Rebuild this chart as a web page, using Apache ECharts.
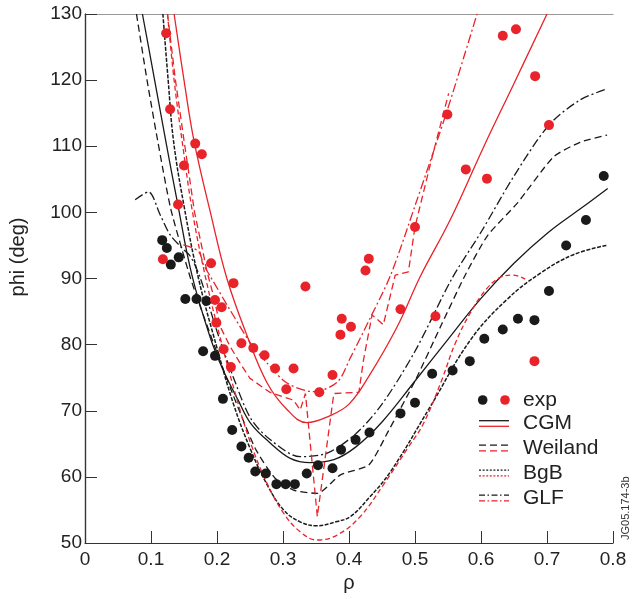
<!DOCTYPE html>
<html><head><meta charset="utf-8">
<script src="https://cdn.jsdelivr.net/npm/echarts@6/dist/echarts.min.js"></script>
<style>html,body{margin:0;padding:0;background:#fff}#c{width:644px;height:599px}</style>
</head><body><div id="c"></div>
<script>
// ---- data (rho, phi in deg) ----
const expBlack = [[0.117,95.8],[0.124,94.6],[0.130,92.1],[0.142,93.2],[0.152,86.9],[0.169,86.9],[0.184,86.6],[0.179,79.0],[0.197,78.3],[0.209,71.8],[0.223,67.1],[0.237,64.6],[0.248,62.9],[0.258,60.8],[0.274,60.5],[0.290,58.9],[0.304,58.9],[0.318,58.9],[0.336,60.5],[0.353,61.75],[0.375,61.3],[0.388,64.1],[0.410,65.6],[0.431,66.7],[0.478,69.6],[0.500,71.2],[0.526,75.6],[0.557,76.1],[0.583,77.5],[0.605,80.9],[0.633,82.3],[0.656,83.9],[0.681,83.7],[0.703,88.1],[0.729,95.0],[0.759,98.85],[0.786,105.5]];
const expRed = [[0.123,127.1],[0.129,115.6],[0.167,110.4],[0.177,108.8],[0.150,107.1],[0.141,101.2],[0.118,92.9],[0.191,92.3],[0.225,89.3],[0.334,88.8],[0.197,86.75],[0.207,85.65],[0.199,83.3],[0.210,79.3],[0.221,76.6],[0.237,80.2],[0.255,79.5],[0.272,78.4],[0.288,76.4],[0.316,76.4],[0.305,73.25],[0.355,72.8],[0.375,75.4],[0.389,83.9],[0.403,82.7],[0.387,81.5],[0.430,93.0],[0.425,91.2],[0.478,85.35],[0.500,97.8],[0.531,84.3],[0.549,114.8],[0.577,106.5],[0.609,105.1],[0.633,126.7],[0.653,127.7],[0.682,120.6],[0.703,113.2],[0.681,77.5]];
const cgmBlack = [[0.087,130],[0.10,123],[0.122,111],[0.14,101.5],[0.162,90.5],[0.19,81],[0.21,76],[0.232,71.6],[0.251,68.1],[0.281,65.1],[0.311,62.8],[0.341,62.15],[0.377,62.6],[0.41,64.5],[0.45,68.3],[0.50,74.5],[0.55,80.8],[0.60,87],[0.65,92.3],[0.70,96.8],[0.75,100.5],[0.792,103.6]];
const weilandBlack = [[0.078,130],[0.094,120],[0.110,110.9],[0.13,100.5],[0.16,90],[0.19,81.5],[0.22,73.5],[0.258,64.3],[0.288,59.8],[0.316,58.0],[0.352,57.5],[0.387,60.3],[0.43,61.8],[0.46,67],[0.50,74.5],[0.54,83],[0.576,90.5],[0.61,96.5],[0.655,101.4],[0.71,108.4],[0.75,110.6],[0.791,111.7]];
const bgbBlack = [[0.118,130],[0.126,120],[0.134,110.9],[0.15,101],[0.172,90],[0.20,79.5],[0.225,71],[0.251,64.1],[0.276,58.8],[0.301,55.0],[0.326,53.2],[0.352,52.6],[0.38,53.2],[0.402,54.0],[0.43,56.8],[0.463,60.8],[0.523,70.6],[0.584,80.7],[0.639,86.8],[0.69,90.8],[0.74,93.6],[0.79,95.0]];
const glfBlack = [[0.076,101.9],[0.096,103.1],[0.114,99.6],[0.129,96.6],[0.147,94.6],[0.16,93.3],[0.175,90],[0.20,82],[0.225,75],[0.251,68.85],[0.281,65.6],[0.326,63.05],[0.367,63.6],[0.41,66.5],[0.45,71],[0.50,79],[0.556,90],[0.60,97],[0.65,105.5],[0.703,113.2],[0.75,117],[0.789,118.6]];
const cgmRed = [[0.135,130],[0.15,120],[0.165,110.9],[0.19,100],[0.215,90],[0.245,81.5],[0.276,74.2],[0.306,70.2],[0.336,68.2],[0.37,69.2],[0.40,71],[0.43,75.2],[0.473,82.7],[0.508,90.3],[0.553,98.8],[0.604,109.9],[0.65,119.5],[0.70,130]];
const weilandRed = [[0.125,130],[0.137,120],[0.15,110.9],[0.166,100],[0.185,91],[0.195,87.25],[0.205,82.7],[0.22,79.7],[0.235,77.2],[0.25,74.9],[0.28,72.8],[0.316,71.6],[0.326,70.1],[0.334,72.6],[0.352,54],[0.377,72.6],[0.415,72.8],[0.422,77.7],[0.435,84.5],[0.452,83],[0.47,90.5],[0.49,91],[0.50,97.8],[0.525,108],[0.551,118]];
const bgbRed = [[0.125,130],[0.135,120],[0.147,110.9],[0.163,100],[0.183,90],[0.205,81],[0.228,72.5],[0.251,65.1],[0.276,59],[0.301,54.5],[0.326,51.7],[0.352,50.45],[0.382,51.2],[0.417,54],[0.452,58.8],[0.49,64.5],[0.513,68.1],[0.54,74.5],[0.561,80.2],[0.585,85],[0.609,88.5],[0.63,90.2],[0.649,90.5],[0.667,89.9]];
const glfRed = [[0.149,95.1],[0.172,94.1],[0.18,92],[0.19,90.3],[0.22,85.2],[0.251,80.2],[0.276,77.2],[0.306,74.2],[0.346,72.9],[0.382,74.3],[0.402,78],[0.432,84],[0.463,90.5],[0.50,101],[0.549,115.5],[0.594,130]];
const legendNames = ['exp','CGM','Weiland','BgB','GLF'];
const yName = 'phi (deg)';
const noteText = 'JG05.174-3b';

// ---- styles ----
const BLACK = '#1a1a1a', RED = '#e8232a';
const FONT = 'Liberation Sans, Arial, Helvetica, sans-serif';
const DASH = [7,4], DOT = [2,1.6], DASHDOT = [9,3,2,3];

function line(data, color, type, smooth, w){
  return {type:'line', data, showSymbol:false, symbol:'none', smooth, clip:true,
    lineStyle:{color, width:w||1.3, type}, z:2, silent:true};
}
const chart = echarts.init(document.getElementById('c'), null, {renderer:'canvas'});
const axisTxt = {color:'#222', fontSize:19, fontFamily:FONT};
const L = {x1:479, x2:509, tx:523};
const rows = [400, 423.5, 448, 473, 498];
const g = [];
g.push({type:'circle', shape:{cx:482.7, cy:rows[0], r:4.8}, style:{fill:BLACK}});
g.push({type:'circle', shape:{cx:505, cy:rows[0], r:4.8}, style:{fill:RED}});
const pats = [null, null, DASH, DOT, [6,2.5,1.5,2.5]];
for (let i=1;i<5;i++){
  g.push({type:'line', shape:{x1:L.x1,y1:rows[i]-2.8,x2:L.x2,y2:rows[i]-2.8}, style:{stroke:BLACK, lineWidth:1.3, lineDash:pats[i]}});
  g.push({type:'line', shape:{x1:L.x1,y1:rows[i]+2.8,x2:L.x2,y2:rows[i]+2.8}, style:{stroke:RED, lineWidth:1.3, lineDash:pats[i]}});
}
legendNames.forEach((n,i)=>g.push({type:'text', x:L.tx, y:rows[i], style:{text:n, fill:'#222', font:'21px '+FONT, textVerticalAlign:'middle'}}));
g.push({type:'text', x:626, y:540, rotation:Math.PI/2, style:{text:noteText, fill:'#333', font:'11px '+FONT, textVerticalAlign:'middle'}});
g.push({type:'text', x:18, y:257, rotation:Math.PI/2, style:{text:yName, fill:'#222', font:'20px '+FONT, textAlign:'center', textVerticalAlign:'middle'}});

chart.setOption({
  animation:false,
  backgroundColor:'#fff',
  grid:{left:85, right:31, top:14, bottom:56},
  xAxis:[{type:'value', min:0, max:0.8, interval:0.1,
    name:'ρ', nameLocation:'middle', nameGap:30, nameTextStyle:{color:'#222', fontSize:20, fontFamily:FONT},
    axisLine:{lineStyle:{color:'#333', width:1.2}}, axisTick:{inside:true, length:12, lineStyle:{color:'#333'}},
    axisLabel:{...axisTxt, margin:7, formatter:v=>String(+v.toFixed(1))}, splitLine:{show:false}},
   {type:'value', position:'top', min:0, max:0.8, axisLine:{show:true, lineStyle:{color:'#999', width:1.2}}, axisTick:{show:false}, axisLabel:{show:false}, splitLine:{show:false}}],
  yAxis:[{type:'value', min:50, max:130, interval:10,
    axisLine:{show:true, lineStyle:{color:'#333', width:1.2}}, axisTick:{show:true, inside:true, length:12, lineStyle:{color:'#333'}},
    axisLabel:{...axisTxt, margin:3}, splitLine:{show:false}},
   {type:'value', position:'right', min:50, max:130, axisLine:{show:true, lineStyle:{color:'#333', width:1.2}}, axisTick:{show:false}, axisLabel:{show:false}, splitLine:{show:false}}],
  series:[
    line(cgmBlack, BLACK, 'solid', 0.4),
    line(weilandBlack, BLACK, DASH, 0.2),
    line(bgbBlack, BLACK, [4,1.5], 0.4, 1.5),
    line(glfBlack, BLACK, DASHDOT, 0.3),
    line(cgmRed, RED, 'solid', 0.4),
    line(weilandRed, RED, DASH, false),
    line(bgbRed, RED, [5,3], 0.4),
    line(glfRed, RED, DASHDOT, 0.3),
    {type:'scatter', data:expBlack, symbolSize:10, itemStyle:{color:BLACK, opacity:1}, z:3, silent:true},
    {type:'scatter', data:expRed, symbolSize:10, itemStyle:{color:RED, opacity:1}, z:3, silent:true}
  ],
  graphic:g
});
</script></body></html>
